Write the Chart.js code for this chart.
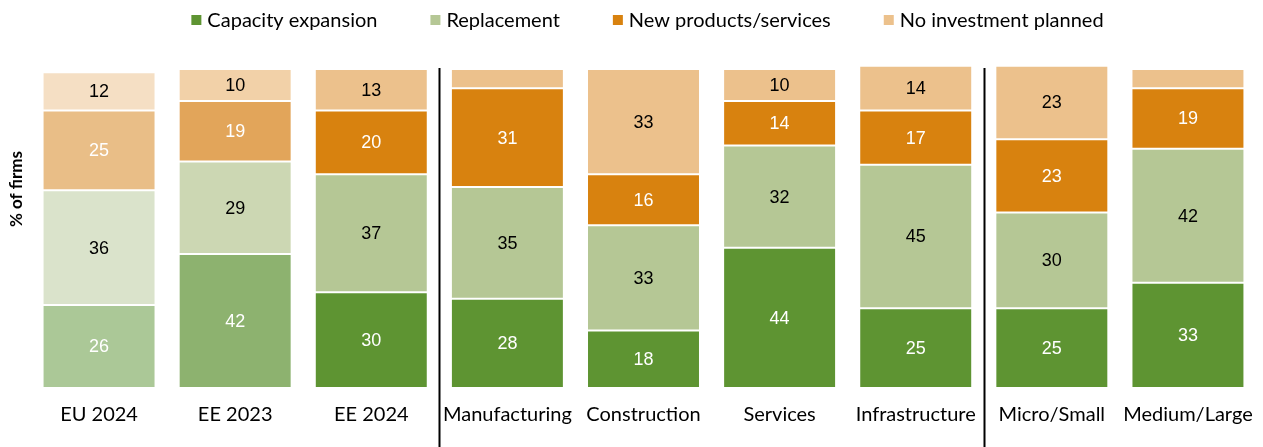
<!DOCTYPE html>
<html lang="en">
<head>
  <meta charset="UTF-8" />
  <title>Investment priorities</title>
  <style>
    body, html {
      margin: 0;
      background: #fff;
    }
    #wrap {
      width: 1263px;
      height: 447px;
    }
  </style>
</head>
<body>

<div id="wrap"><canvas id="invChart" width="1263" height="447"></canvas></div>

<script src="https://cdn.jsdelivr.net/npm/chart.js"></script>
<script>
  const categories = ['EU 2024', 'EE 2023', 'EE 2024', 'Manufacturing', 'Construction', 'Services', 'Infrastructure', 'Micro/Small', 'Medium/Large'];
  const seriesNames = ['Capacity expansion', 'Replacement', 'New products/services', 'No investment planned'];

  const capacity    = [26, 42, 30, 28, 18, 44, 25, 25, 33];
  const replacement = [36, 29, 37, 35, 33, 32, 45, 30, 42];
  const newProducts = [25, 19, 20, 31, 16, 14, 17, 23, 19];
  const noInvest    = [12, 10, 13,  6, 33, 10, 14, 23,  6];

  // separators sit after these category indexes
  const groupBreaks = [2, 6];

  // main colour, then lighter tints used for EU 2024 and EE 2023
  const palette = [
    { main: '#5e9432', eu: '#abc897', prev: '#8db26f', label: '#ffffff' },
    { main: '#b5c795', eu: '#dae3cb', prev: '#ccd7b3', label: '#000000' },
    { main: '#d8820f', eu: '#e9be87', prev: '#e2a55a', label: '#ffffff' },
    { main: '#ecc18c', eu: '#f5dfc4', prev: '#f2d1a8', label: '#000000' }
  ];

  function barColours(p) {
    return categories.map((c, i) => i === 0 ? p.eu : (i === 1 ? p.prev : p.main));
  }

  const datasets = [capacity, replacement, newProducts, noInvest].map((vals, k) => ({
    label: seriesNames[k],
    data: vals,
    backgroundColor: barColours(palette[k]),
    borderColor: '#ffffff',
    borderWidth: 1,
    borderSkipped: false,
    clip: false,
    labelColour: palette[k].label
  }));

  const labelFont = '18px "Liberation Sans", Arial, sans-serif';
  const textFont = '"Lato", "Open Sans", sans-serif';

  // value labels in the middle of each segment
  const segmentLabels = {
    id: 'segmentLabels',
    afterDatasetsDraw(chart) {
      const ctx = chart.ctx;
      ctx.save();
      ctx.font = labelFont;
      ctx.textAlign = 'center';
      ctx.textBaseline = 'middle';
      chart.data.datasets.forEach((ds, di) => {
        chart.getDatasetMeta(di).data.forEach((bar, i) => {
          const v = ds.data[i];
          if (v < 8) return;
          ctx.fillStyle = ds.labelColour;
          ctx.fillText(String(v), bar.x, (bar.y + bar.base) / 2 + 1);
        });
      });
      ctx.restore();
    }
  };

  // vertical lines between the groups, axis title and top legend
  const extras = {
    id: 'extras',
    afterDraw(chart) {
      const ctx = chart.ctx;
      const x = chart.scales.x;
      const area = chart.chartArea;
      ctx.save();
      ctx.strokeStyle = '#000';
      ctx.lineWidth = 2;
      groupBreaks.forEach(i => {
        const xp = Math.round((x.getPixelForValue(i) + x.getPixelForValue(i + 1)) / 2) + 0.5;
        ctx.beginPath();
        ctx.moveTo(xp, area.top - 1);
        ctx.lineTo(xp, chart.height);
        ctx.stroke();
      });

      ctx.fillStyle = '#000';
      ctx.font = 'bold 17px ' + textFont;
      ctx.translate(17, 189);
      ctx.rotate(-Math.PI / 2);
      ctx.textAlign = 'center';
      ctx.textBaseline = 'middle';
      ctx.fillText('% of firms', 0, 0);
      ctx.restore();

      ctx.save();
      ctx.font = '20px ' + textFont;
      ctx.textBaseline = 'middle';
      const box = 10, gapText = 6, gapItem = 53;
      const widths = seriesNames.map(n => box + gapText + ctx.measureText(n).width);
      const total = widths.reduce((a, b) => a + b, 0) + gapItem * (seriesNames.length - 1);
      let cx = 188 + (919 - total) / 2;
      const cy = 20;
      seriesNames.forEach((n, k) => {
        ctx.fillStyle = palette[k].main;
        ctx.fillRect(cx, cy - box / 2, box, box);
        ctx.fillStyle = '#000';
        ctx.fillText(n, cx + box + gapText, cy + 1);
        cx += widths[k] + gapItem;
      });
      ctx.restore();
    }
  };

  new Chart(document.getElementById('invChart').getContext('2d'), {
    type: 'bar',
    data: { labels: categories, datasets: datasets },
    plugins: [segmentLabels, extras],
    options: {
      responsive: false,
      animation: false,
      layout: { padding: { top: 69, left: 31, right: 7, bottom: 5 } },
      datasets: { bar: { categoryPercentage: 1, barPercentage: 0.83 } },
      plugins: {
        legend: { display: false },
        tooltip: { enabled: false }
      },
      scales: {
        x: {
          stacked: true,
          grid: { display: false, drawTicks: false },
          border: { display: false },
          ticks: { color: '#000', padding: 15, font: { family: textFont, size: 20 } },
          // tick labels fit inside their slots, so no extra side padding
          afterFit(scale) {
            scale.paddingLeft = 0;
            scale.paddingRight = 0;
          }
        },
        y: {
          stacked: true,
          min: 0,
          max: 100,
          display: false
        }
      }
    }
  });
</script>

</body>
</html>
